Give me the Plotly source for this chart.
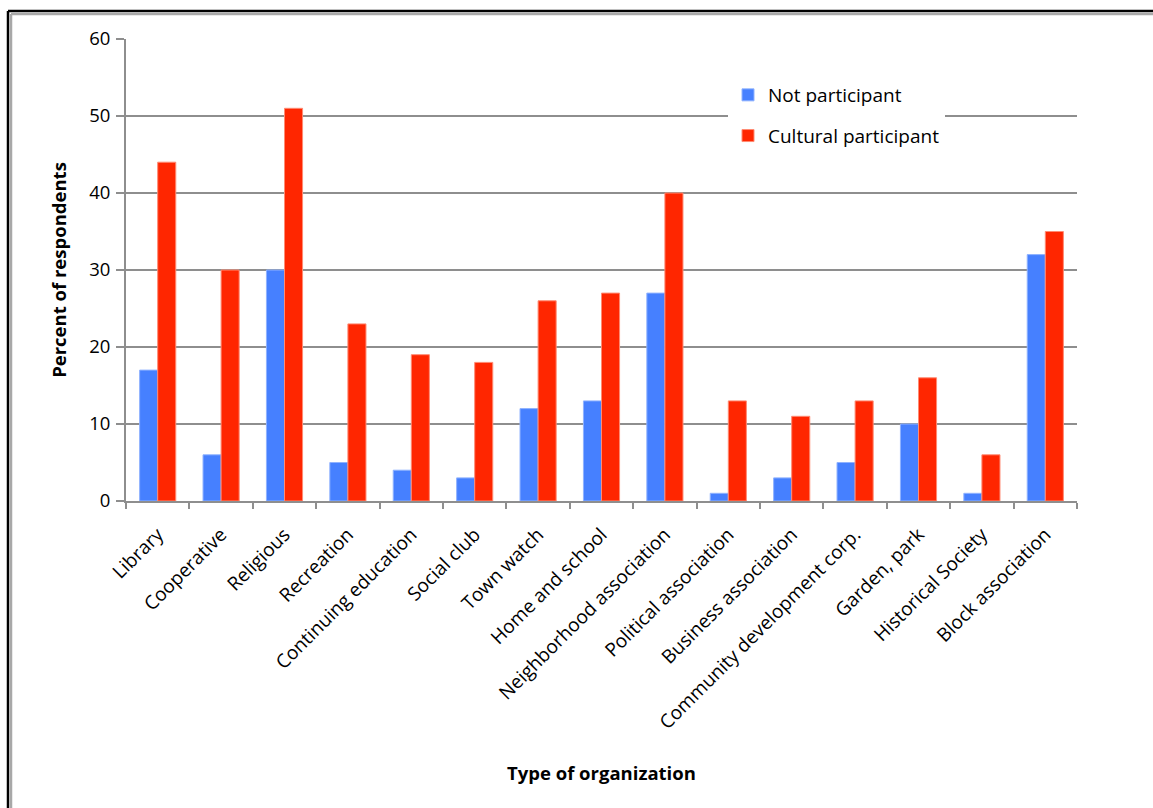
import plotly.graph_objects as go

categories = [
    "Library", "Cooperative", "Religious", "Recreation", "Continuing education",
    "Social club", "Town watch", "Home and school", "Neighborhood association",
    "Political association", "Business association", "Community development corp.",
    "Garden, park", "Historical Society", "Block association",
]
not_participant = [17, 6, 30, 5, 4, 3, 12, 13, 27, 1, 3, 5, 10, 1, 32]
cultural_participant = [44, 30, 51, 23, 19, 18, 26, 27, 40, 13, 11, 13, 16, 6, 35]
y_ticks = [0, 10, 20, 30, 40, 50, 60]

FONT = "Open Sans"
GRID = "#8e8e8e"

W, H = 1153, 808
L, R, T, B = 126, 76, 39, 307
pw, ph = W - L - R, H - T - B


def px_x(x):
    return (x - L) / pw


def px_y(y):
    return (H - B - y) / ph


fig = go.Figure()
fig.add_trace(go.Bar(
    x=categories, y=not_participant, name="Not participant",
    marker=dict(color="#4680ff", line=dict(color="#8fb2ff", width=1)),
    legendgroup="a",
))
fig.add_trace(go.Bar(
    x=categories, y=cultural_participant, name="Cultural participant",
    marker=dict(color="#ff2600", line=dict(color="#ff8b73", width=1)),
    legendgroup="b",
))

# chart frame: black outer rule with a grey inner rule
frame = []
for off, col in [(0, "black"), (3, "#a8a8a8")]:
    frame.append(dict(type="line", xref="paper", yref="paper",
                      x0=px_x(8 + off), x1=px_x(W + 5),
                      y0=px_y(11 + off), y1=px_y(11 + off),
                      line=dict(color=col, width=2.5)))
    frame.append(dict(type="line", xref="paper", yref="paper",
                      x0=px_x(8 + off), x1=px_x(8 + off),
                      y0=px_y(11 + off), y1=px_y(H + 5),
                      line=dict(color=col, width=2.5)))

fig.update_layout(
    width=W, height=H,
    margin=dict(l=L, r=R, t=T, b=B, pad=0),
    paper_bgcolor="white", plot_bgcolor="white",
    font=dict(family=FONT, size=16, color="black"),
    barmode="group", bargap=0.43, bargroupgap=0,
    shapes=frame,
    legend=dict(
        x=px_x(728), y=px_y(76), xanchor="left", yanchor="top",
        bgcolor="white", borderwidth=0,
        font=dict(family=FONT, size=19, color="black"),
        tracegroupgap=13, itemwidth=30,
    ),
    annotations=[dict(
        text="<b>Type of organization</b>", xref="paper", yref="paper",
        x=0.5, y=px_y(772), xanchor="center", yanchor="middle",
        showarrow=False, font=dict(family=FONT, size=18.5, color="black"),
    )],
    xaxis=dict(
        type="category", tickangle=-45, tickson="boundaries",
        ticks="outside", ticklen=6, tickwidth=2, tickcolor=GRID,
        showline=True, linecolor=GRID, linewidth=2,
        showgrid=False,
        tickfont=dict(family=FONT, size=19),
        ticklabelstandoff=13,
    ),
    yaxis=dict(
        range=[0, 60], tickvals=y_ticks,
        ticks="outside", ticklen=8, tickwidth=2, tickcolor=GRID,
        showline=True, linecolor=GRID, linewidth=2,
        showgrid=True, gridcolor=GRID, gridwidth=2,
        zeroline=False,
        tickfont=dict(family=FONT, size=18.5),
        ticklabelstandoff=2,
        title=dict(text="<b>Percent of respondents</b>", standoff=18,
                   font=dict(family=FONT, size=18.5)),
    ),
)

fig.write_html("out.html")
